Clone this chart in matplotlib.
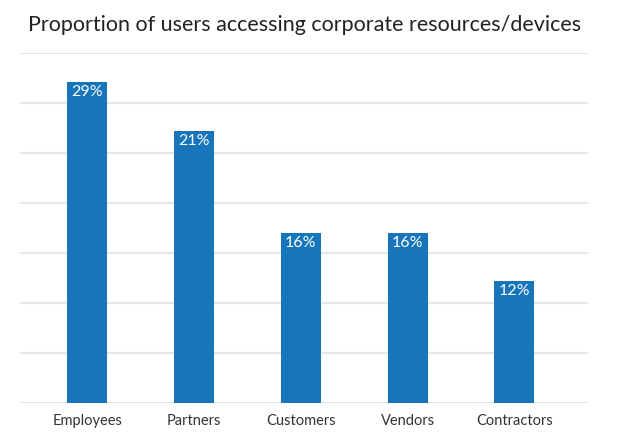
import matplotlib
matplotlib.use('Agg')
import numpy as np
import matplotlib.pyplot as plt

# categories and values
categories = ['Employees', 'Partners', 'Customers', 'Vendors', 'Contractors']
# bar heights in gridline units (baseline = 0, each gridline = 1)
heights = [6.42, 5.44, 3.4, 3.4, 2.44]
value_labels = ['29%', '21%', '16%', '16%', '12%']

plt.rcParams['font.family'] = ['Lato', 'DejaVu Sans']

fig = plt.figure(figsize=(6.19, 4.44), dpi=100)
ax = fig.add_axes([20 / 619, 41 / 444, 568 / 619, 350 / 444])

x = np.arange(len(categories))
bars = ax.bar(x, heights, width=0.375, color='#1775bb', zorder=3)

for b, lab in zip(bars, value_labels):
    ax.text(b.get_x() + b.get_width() / 2, b.get_height() - 0.06, lab,
            ha='center', va='top', color='white', fontsize=11.5, zorder=4)

ax.set_ylim(0, 7)
ax.set_xlim(-0.63, 4.69)
ax.set_yticks(np.arange(0, 8))
ax.yaxis.grid(True, color='#e6e6e6', linewidth=1.5, zorder=0)
ax.set_yticklabels([])
ax.tick_params(axis='y', length=0)
ax.tick_params(axis='x', length=0, pad=8, labelsize=10.5, labelcolor='#333333')
ax.set_xticks(x)
ax.set_xticklabels(categories)
for s in ax.spines.values():
    s.set_visible(False)

fig.text(305 / 619, 1 - 25 / 444, 'Proportion of users accessing corporate resources/devices',
         ha='center', va='center', fontsize=15.5, color='#222222')

fig.savefig('out.png', dpi=100)
